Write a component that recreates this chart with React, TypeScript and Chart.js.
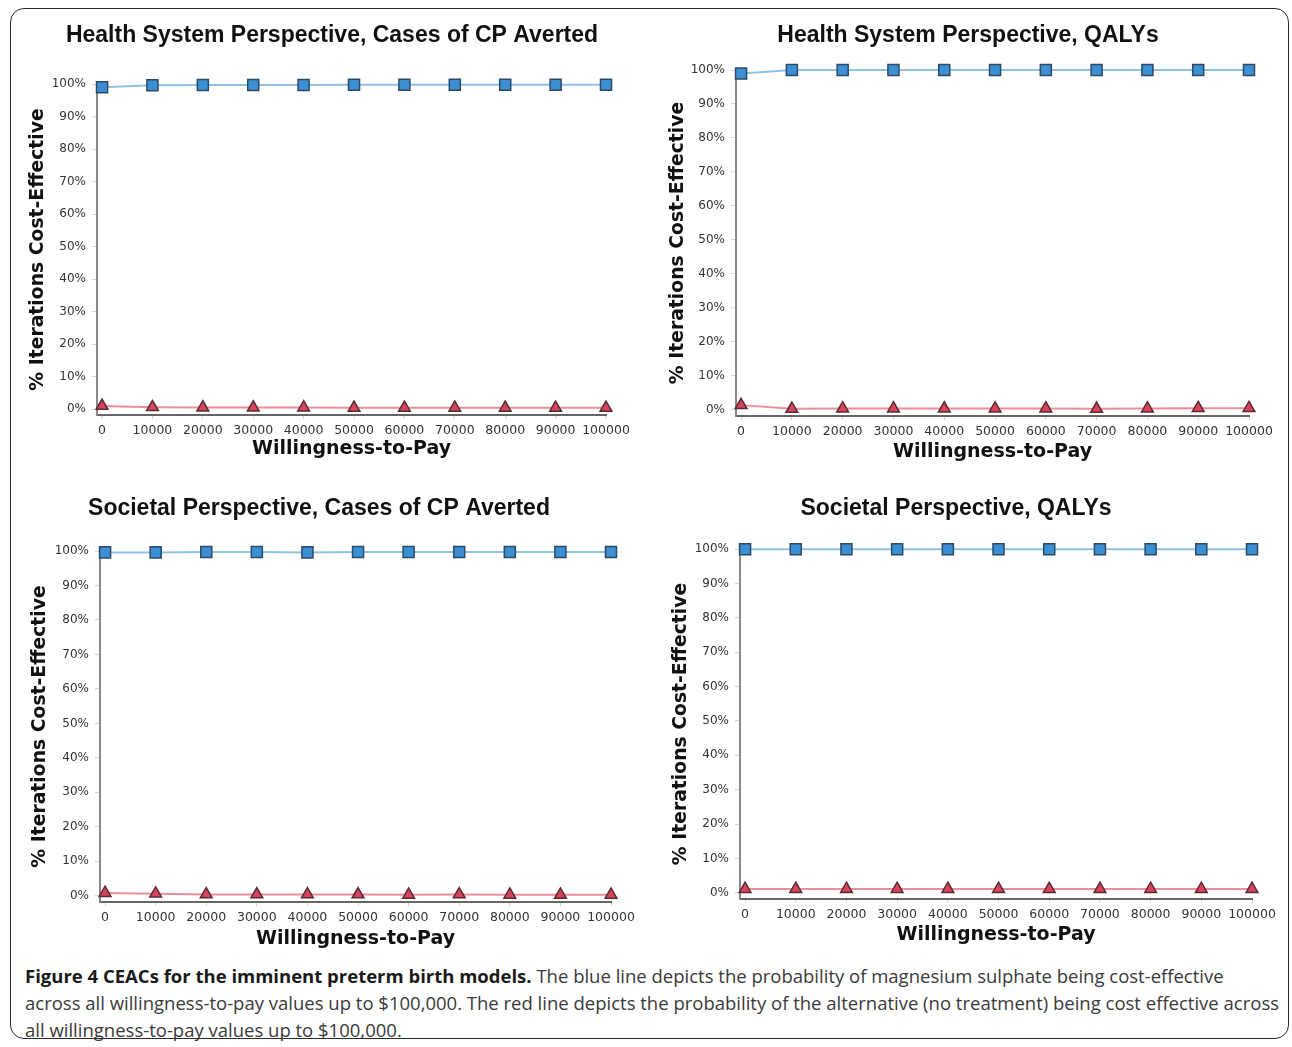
import React, { useEffect, useRef } from 'react';
import { Chart, registerables } from 'chart.js';
Chart.register(...registerables);

// ---- data ----
const wtpValues = [0, 10000, 20000, 30000, 40000, 50000, 60000, 70000, 80000, 90000, 100000];
const yTickValues = [0, 10, 20, 30, 40, 50, 60, 70, 80, 90, 100];

const hsCpMgso4 = [99.0, 99.6, 99.7, 99.7, 99.7, 99.8, 99.8, 99.8, 99.8, 99.8, 99.8];
const hsCpNone = [1.0, 0.6, 0.5, 0.5, 0.5, 0.4, 0.4, 0.4, 0.4, 0.4, 0.4];

const hsQalyMgso4 = [99.0, 100, 100, 100, 100, 100, 100, 100, 100, 100, 100];
const hsQalyNone = [1.4, 0.3, 0.4, 0.4, 0.4, 0.4, 0.4, 0.3, 0.4, 0.5, 0.5];

const socCpMgso4 = [99.6, 99.6, 99.7, 99.7, 99.6, 99.7, 99.7, 99.7, 99.7, 99.7, 99.7];
const socCpNone = [0.8, 0.6, 0.4, 0.4, 0.4, 0.4, 0.3, 0.4, 0.3, 0.3, 0.3];

const socQalyMgso4 = [99.9, 99.9, 99.9, 99.9, 99.9, 99.9, 99.9, 99.9, 99.9, 99.9, 99.9];
const socQalyNone = [1.1, 1.1, 1.1, 1.1, 1.1, 1.1, 1.1, 1.1, 1.1, 1.1, 1.1];

const panelTitles = [
  'Health System Perspective, Cases of CP Averted',
  'Health System Perspective, QALYs',
  'Societal Perspective, Cases of CP Averted',
  'Societal Perspective, QALYs',
];
const yAxisTitle = '% Iterations Cost-Effective';
const xAxisTitle = 'Willingness-to-Pay';

// ---- layout (page coordinates) ----
type Layout = {
  box: [number, number, number, number];
  titleX: number; titleY: number;
  L: number; R: number; T: number; B: number;
  yTitleX: number; xTitleY: number;
};

const layouts: Layout[] = [
  { box: [12, 12, 640, 455], titleX: 332, titleY: 36, L: 97, R: 606, T: 84, B: 415, yTitleX: 38, xTitleY: 449 },
  { box: [652, 12, 630, 455], titleX: 968, titleY: 36, L: 736, R: 1249, T: 70, B: 416, yTitleX: 678, xTitleY: 452 },
  { box: [12, 480, 640, 475], titleX: 319, titleY: 509, L: 100, R: 611, T: 551, B: 902, yTitleX: 40, xTitleY: 939 },
  { box: [652, 480, 630, 470], titleX: 956, titleY: 509, L: 740, R: 1252, T: 549, B: 899, yTitleX: 681, xTitleY: 935 },
];

const panelData = [
  [hsCpMgso4, hsCpNone],
  [hsQalyMgso4, hsQalyNone],
  [socCpMgso4, socCpNone],
  [socQalyMgso4, socQalyNone],
];

const panelTitlePlugin = {
  id: 'panelTitle',
  afterDraw(chart: any, _args: any, opts: any) {
    const ctx = chart.ctx;
    ctx.save();
    ctx.font = 'bold 23px "Liberation Sans", Arial, sans-serif';
    ctx.fillStyle = '#111';
    ctx.textAlign = 'center';
    ctx.textBaseline = 'middle';
    ctx.fillText(opts.text, opts.x, opts.y);
    ctx.restore();
  },
};

const Y_TITLE_SIZE = 18.8;
const X_TITLE_SIZE = 19;

function Panel({ idx }: { idx: number }) {
  const ref = useRef<HTMLCanvasElement>(null);
  const lay = layouts[idx];
  const [cl, ct, cw, ch] = lay.box;
  useEffect(() => {
    const [mg, none] = panelData[idx];
    const scaleLeft = lay.yTitleX - (Y_TITLE_SIZE * 1.2) / 2;
    const yWidth = lay.L - scaleLeft;
    const xHeight = lay.xTitleY + (X_TITLE_SIZE * 1.2) / 2 - lay.B;
    const padding = {
      left: scaleLeft - cl,
      right: cl + cw - lay.R,
      top: lay.T - ct,
      bottom: ct + ch - lay.B - xHeight,
    };
    const yMin = -1.8;
    const chart = new Chart(ref.current!, {
      type: 'line',
      data: {
        datasets: [
          {
            data: wtpValues.map((x, i) => ({ x, y: mg[i] })),
            borderColor: '#8ec3e4',
            borderWidth: 2,
            pointStyle: 'rect',
            pointRadius: 7.8,
            pointBackgroundColor: '#3b8fd2',
            pointBorderColor: '#2c4a66',
            pointBorderWidth: 1.5,
            clip: false,
          },
          {
            data: wtpValues.map((x, i) => ({ x, y: none[i] })),
            borderColor: '#ee8e9d',
            borderWidth: 2,
            pointStyle: 'triangle',
            pointRadius: 6.8,
            pointBackgroundColor: '#d6455c',
            pointBorderColor: '#5a2a35',
            pointBorderWidth: 1.5,
            clip: false,
          },
        ],
      } as any,
      options: {
        responsive: false,
        animation: false,
        layout: { padding },
        plugins: {
          legend: { display: false },
          tooltip: { enabled: false },
          panelTitle: { text: panelTitles[idx], x: lay.titleX - cl, y: lay.titleY - ct },
        } as any,
        scales: {
          x: {
            type: 'linear',
            min: -1000,
            max: 100000,
            afterBuildTicks: (s: any) => { s.ticks = wtpValues.map((v) => ({ value: v })); },
            afterFit: (s: any) => { s.height = xHeight; },
            ticks: {
              font: { family: 'DejaVu Sans', size: 12.5 },
              color: '#333',
              padding: 4,
              maxRotation: 0,
              autoSkip: false,
              callback: (v: any) => String(v),
            },
            grid: { drawOnChartArea: false, drawTicks: true, tickLength: 4, color: '#d5d5d5' },
            border: { display: true, color: '#666', width: 2 },
            title: {
              display: true,
              text: xAxisTitle,
              font: { family: 'DejaVu Sans', weight: 'bold', size: X_TITLE_SIZE },
              color: '#111',
              padding: 0,
            },
          },
          y: {
            type: 'linear',
            min: yMin,
            max: 100,
            afterBuildTicks: (s: any) => { s.ticks = yTickValues.map((v) => ({ value: v })); },
            afterFit: (s: any) => { s.width = yWidth; },
            ticks: {
              font: { family: 'DejaVu Sans', size: 12 },
              color: '#333',
              padding: 6,
              callback: (v: any) => v + '%',
            },
            grid: { drawOnChartArea: false, drawTicks: true, tickLength: 5, color: '#d5d5d5' },
            border: { display: true, color: '#888', width: 2 },
            title: {
              display: true,
              text: yAxisTitle,
              font: { family: 'DejaVu Sans', weight: 'bold', size: Y_TITLE_SIZE },
              color: '#111',
              padding: 0,
            },
          },
        },
      } as any,
      plugins: [panelTitlePlugin],
    });
    return () => chart.destroy();
  }, [idx]);
  return (
    <canvas
      ref={ref}
      width={cw}
      height={ch}
      style={{ position: 'absolute', left: cl, top: ct, width: cw, height: ch }}
    />
  );
}

export default function App() {
  return (
    <div style={{ position: 'absolute', left: 0, top: 0, width: 1292, height: 1047, overflow: 'hidden', background: '#fff' }}>
      <div
        style={{
          position: 'absolute', left: 10, top: 8, width: 1279, height: 1031,
          border: '1.5px solid #2a2a2a', borderRadius: 14, boxSizing: 'border-box',
        }}
      />
      {[0, 1, 2, 3].map((i) => <Panel key={i} idx={i} />)}
      <div
        style={{
          position: 'absolute', left: 25, top: 962, whiteSpace: 'nowrap',
          fontFamily: '"Open Sans", Lato, sans-serif', fontSize: 18.5, lineHeight: '27px', color: '#3a3a3a',
        }}
      >
        <b style={{ color: '#1a1a1a' }}>Figure 4 CEACs for the imminent preterm birth models.</b> The blue line depicts the probability of magnesium sulphate being cost-effective
        <br />
        across all willingness-to-pay values up to $100,000. The red line depicts the probability of the alternative (no treatment) being cost effective across
        <br />
        all willingness-to-pay values up to $100,000.
      </div>
    </div>
  );
}
